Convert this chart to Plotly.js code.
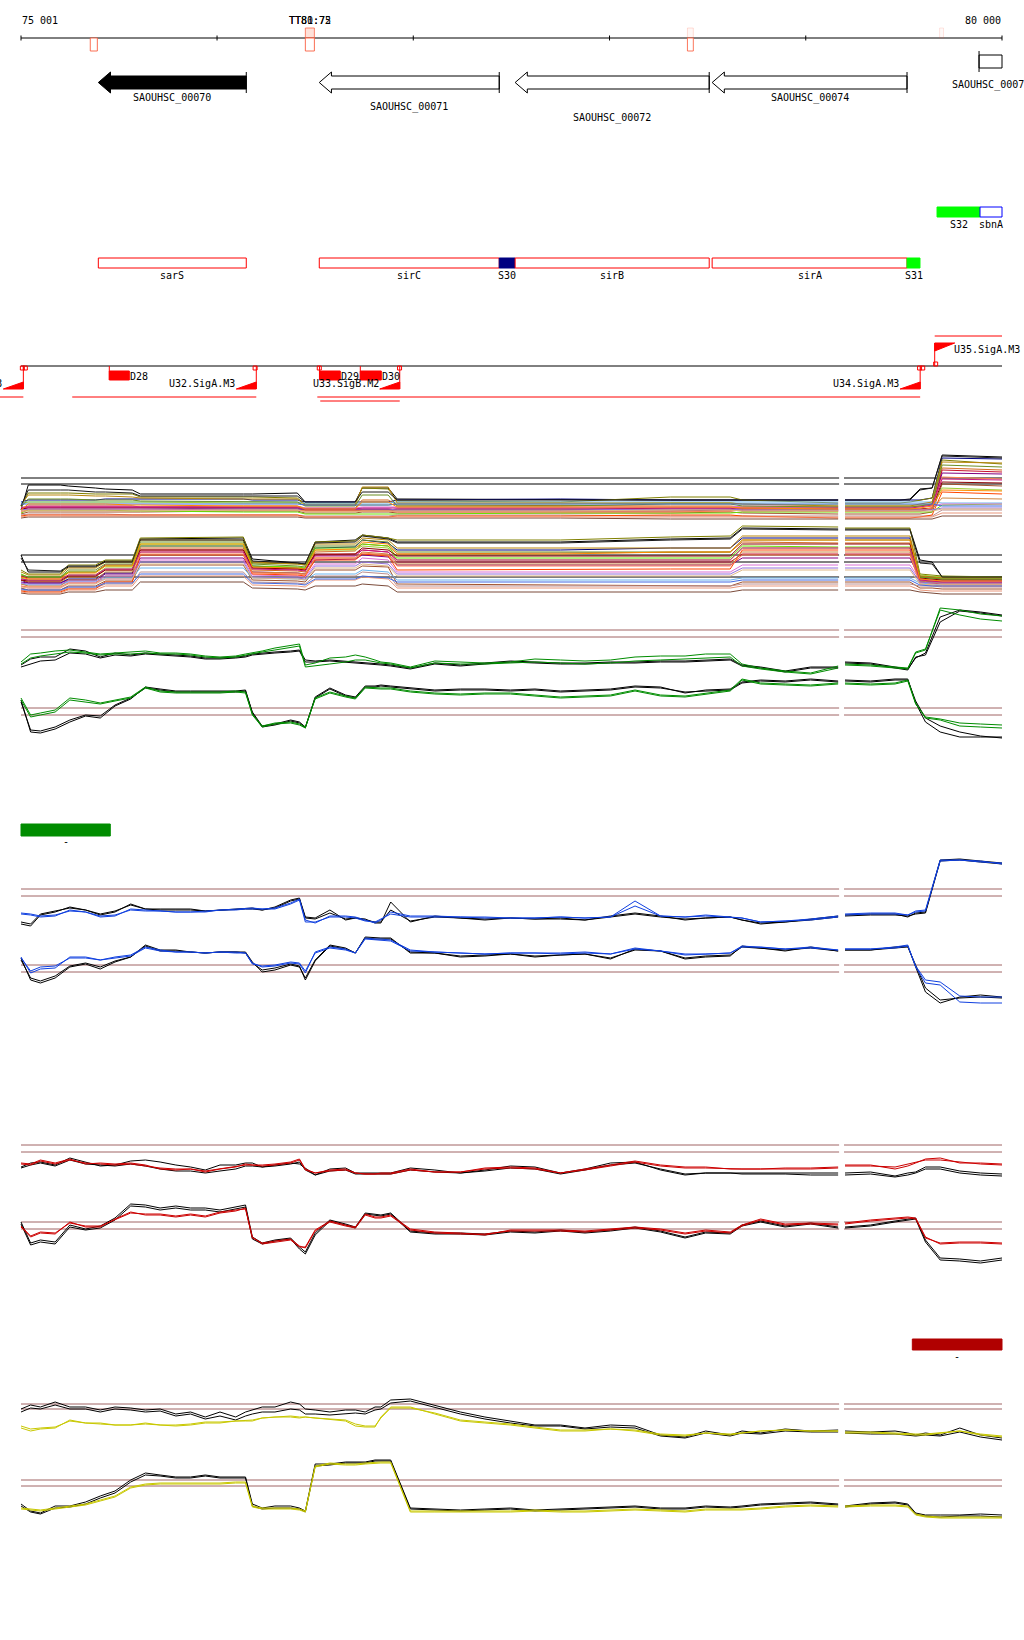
<!DOCTYPE html>
<html><head><meta charset="utf-8">
<script src="https://cdn.plot.ly/plotly-3.0.1.min.js"></script>
<style>html,body{margin:0;padding:0;background:#fff}#chart{width:1024px;height:1640px}</style>
</head><body><div id="chart"></div>
<script>
// ================= DATA =================
const viewStart = 75001, viewEnd = 80000;
const gapStart = 79170, gapEnd = 79195;
const rulerTicks = [75001, 76000, 77000, 78000, 79000, 80000];
const rulerTickLabels = ["75 001", "", "", "", "", "80 000"];

const termStart  = [75354, 76450, 76450, 78397, 78397, 79682];
const termEnd    = [75390, 76496, 76496, 78427, 78427, 79702];
const termStrand = ["-", "+", "-", "+", "-", "+"];
const termScore  = [0.9, 0.75, 0.9, 0.2, 0.85, 0.15];
const termLabels = ["TT80:75", "TT81:72"];
const termLabelPos = [76473, 76473];

const geneNames  = ["SAOUHSC_00070", "SAOUHSC_00071", "SAOUHSC_00072", "SAOUHSC_00074", "SAOUHSC_00075"];
const geneStart  = [75395, 76521, 77519, 78523, 79883];
const geneEnd    = [76149, 77438, 78508, 79516, 80450];
const geneStrand = ["-", "-", "-", "-", "+"];
const geneFilled = [true, false, false, false, false];

const segNames  = ["sarS", "sirC", "S30", "sirB", "sirA", "S31", "S32", "sbnA"];
const segStart  = [75395, 76521, 77438, 77519, 78523, 79516, 79669, 79888];
const segEnd    = [76149, 77438, 77519, 78508, 79516, 79582, 79888, 80450];
const segStrand = ["-", "-", "-", "-", "-", "-", "+", "+"];
const segType   = ["gene", "gene", "S", "gene", "gene", "S", "S", "gene"];
const segClass  = [0, 0, 1, 0, 0, 2, 2, 0];

const promNames  = ["U31.SigA.M3", "U32.SigA.M3", "U33.SigB.M2", "U34.SigA.M3", "U35.SigA.M3"];
const promPos    = [75013, 76200, 76931, 79583, 79657];
const promStrand = ["-", "-", "-", "-", "+"];
const downNames  = ["D28", "D29", "D30"];
const downStart  = [75451, 76522, 76730];
const downEnd    = [75553, 76628, 76837];
const txStart    = [74500, 75262, 76511, 76526, 79657];
const txEnd      = [75013, 76200, 79583, 76931, 80000];
const txStrand   = ["-", "-", "-", "-", "+"];
const markPos    = [75008, 75023, 76194, 76521, 76930, 79580, 79596, 79662];
const markStrand = ["-", "-", "-", "-", "-", "-", "-", "+"];

const barStart = [75001, 79543];
const barEnd   = [75456, 80000];
const barLabel = ["-", "-"];

// ---- multi-condition profiles (grid positions, bp) ----
const mcPos = [75001,75038,75201,75242,75380,75431,75568,75609,76134,76180,76409,76449,76500,76704,76740,76872,76918,77749,78310,78615,78677,79165,79200,79480,79531,79582,79644,79695,80000];
const mcRefs = [132, 126, 55, 48, 33];
// plus strand
const p01 = [100,125,125,124,122,121,120,116,116,116,117,108,108,108,122,122,111,110,110,110,110,110,110,110,111,121,122,155,153];
const p02 = [108,110,110,110,110,111,111,111,111,110,110,108,108,108,108,108,110,111,110,110,110,110,110,110,110,110,112,152,151];
const p03 = [104,117,117,117,116,116,116,113,113,113,112,106,106,106,122,121,109,108,113,113,110,107,107,107,108,110,112,150,146];
const p04 = [99,103,103,103,103,103,103,103,104,104,104,102,102,102,110,110,105,104,104,104,103,103,103,103,103,104,106,142,140];
const p05 = [96,98,98,98,98,98,98,98,99,99,99,97,97,97,98,98,97,97,97,98,97,96,96,96,96,96,98,126,124];
const p06 = [102,104,104,104,104,104,104,103,102,102,102,101,101,101,101,101,100,100,102,102,99,99,99,99,99,99,101,140,138];
const p07 = [101,102,102,102,102,102,102,102,101,101,101,100,100,100,100,100,99,99,99,100,100,100,100,100,100,100,101,137,136];
const p08 = [97,100,100,100,100,100,99,99,98,98,98,96,96,96,96,96,96,97,97,97,98,98,98,98,98,98,98,105,106];
const p09 = [108,108,108,108,108,108,108,108,108,108,108,107,107,107,107,107,108,108,108,108,108,108,108,108,108,108,108,107,107];
const p10 = [103,103,103,103,103,103,103,103,103,103,103,102,102,102,103,103,103,103,103,103,104,104,104,104,104,104,104,106,106];
const p11 = [95,96,96,96,96,96,95,95,95,95,95,94,94,94,94,94,95,95,94,94,94,94,94,94,94,94,94,100,100];
const p12 = [94,95,95,95,95,95,95,95,95,95,95,93,93,93,93,93,94,94,95,95,94,92,92,92,92,93,95,118,116];
const p13 = [106,108,108,108,108,108,108,108,107,107,107,105,105,105,105,105,106,106,107,107,106,105,105,105,105,105,106,122,120];
const p14 = [105,115,115,115,114,114,113,112,111,111,111,105,105,105,123,123,107,107,107,107,106,104,104,104,104,106,108,148,147];
const p15 = [92,93,93,93,93,93,93,93,93,93,93,92,92,92,92,92,92,92,91,91,91,91,91,91,91,91,91,94,94];
const p16 = [101,102,102,102,102,102,102,102,102,102,102,100,100,100,100,100,101,101,101,101,101,101,101,101,101,101,102,128,127];
const p17 = [98,100,100,100,100,100,100,100,100,100,100,99,99,99,99,99,99,99,99,99,101,100,100,100,100,100,101,112,111];
const p18 = [104,120,120,120,118,118,117,114,114,114,114,108,108,108,118,118,110,110,110,110,110,110,110,110,110,120,122,154,152];
const p19 = [98,101,101,101,101,101,101,101,100,100,100,99,99,99,99,99,98,98,98,99,100,99,99,99,99,100,102,133,131];
const p20 = [100,101,101,101,101,101,101,101,101,101,101,101,101,101,101,101,100,100,101,101,100,100,100,100,100,100,100,102,102];
const p21 = [99,99,99,99,99,99,99,99,100,100,100,98,98,98,99,99,99,99,100,100,99,99,99,99,99,99,99,101,101];
const p22 = [103,111,111,111,110,110,110,109,108,108,108,104,104,104,115,115,104,104,106,106,104,103,103,103,103,104,106,145,143];
const p23 = [93,94,94,94,94,94,94,94,94,94,94,93,93,93,93,93,93,93,93,93,93,93,93,93,93,93,93,97,97];
const p24 = [102,103,103,103,103,103,103,103,103,103,103,101,101,101,102,102,102,102,102,102,102,102,102,102,102,103,105,131,130];
const p25 = [106,106,106,106,106,106,106,106,106,106,106,105,105,105,105,105,106,106,106,106,106,106,106,106,106,106,106,104,104];
const p26 = [100,106,106,106,106,106,105,105,104,104,104,101,101,101,108,108,103,103,103,103,102,101,101,101,101,102,104,120,119];
// minus strand
const m01 = [55,38,38,43,43,49,49,71,72,51,47,46,68,70,75,72,68,68,71,72,82,81,81,81,81,50,48,33,33];
const m02 = [30,27,27,31,31,37,37,64,64,44,42,41,62,63,70,67,60,60,62,62,72,72,72,72,72,29,28,28,28];
const m03 = [40,36,36,45,45,50,50,72,73,47,46,45,68,69,75,72,70,70,73,74,84,83,82,82,82,36,35,34,33];
const m04 = [30,28,28,33,33,40,40,62,62,40,39,38,58,59,66,64,56,57,58,58,68,67,67,67,67,30,29,28,28];
const m05 = [22,20,20,24,24,29,29,45,45,30,29,28,40,40,44,43,26,25,25,24,28,28,28,28,28,22,22,21,21];
const m06 = [34,32,32,38,38,45,45,60,60,42,41,40,55,56,60,58,48,48,48,48,56,56,56,56,56,34,33,32,32];
const m07 = [28,27,27,30,30,36,36,52,52,38,37,36,50,51,55,53,45,45,45,45,52,52,52,52,52,31,30,30,30];
const m08 = [36,33,33,38,38,44,44,66,66,44,43,42,62,62,66,64,52,52,52,52,64,63,63,63,63,33,32,31,31];
const m09 = [26,25,25,28,28,32,32,42,42,32,31,30,36,36,40,38,30,30,30,30,32,32,32,32,32,27,26,25,25];
const m10 = [24,22,22,27,27,31,31,50,50,35,34,33,46,46,52,50,38,38,38,38,45,45,45,45,45,30,30,29,29];
const m11 = [20,19,19,22,22,26,26,38,38,28,27,26,34,34,38,36,24,24,24,24,26,26,26,26,26,24,24,23,23];
const m12 = [19,18,18,21,21,28,28,55,55,36,35,34,50,50,56,54,40,41,41,41,60,60,60,60,60,28,27,26,26];
const m13 = [32,30,30,35,35,42,42,64,64,42,41,40,60,60,64,62,50,50,50,50,62,62,62,62,62,35,34,33,33];
const m14 = [38,35,35,42,42,48,48,70,70,48,46,45,66,66,72,70,62,62,62,62,74,74,74,74,74,34,33,32,32];
const m15 = [17,16,16,18,18,20,20,28,28,22,21,20,24,24,26,24,18,18,18,18,20,20,20,20,20,18,17,16,16];
const m16 = [30,29,29,34,34,40,40,60,60,42,41,40,56,56,62,60,54,54,54,54,66,66,66,66,66,32,31,30,30];
const m17 = [26,24,24,30,30,38,38,58,58,38,37,36,52,52,58,56,46,46,46,46,58,58,58,58,58,29,28,27,27];
const m18 = [52,40,39,44,44,48,48,70,70,49,47,46,67,68,74,71,67,67,70,71,81,80,80,80,80,47,46,33,33];
const m19 = [24,23,23,27,27,34,34,56,56,37,36,35,52,52,57,55,44,44,44,44,55,55,55,55,55,26,25,24,24];
const m20 = [27,26,26,29,29,34,34,48,48,33,32,31,44,44,48,46,36,36,36,36,42,42,42,42,42,28,27,27,27];
const m21 = [23,22,22,26,26,31,31,46,46,32,31,30,42,42,46,44,34,34,34,34,40,40,40,40,40,26,25,25,25];
const m22 = [35,33,33,40,40,46,46,68,68,46,44,43,64,64,70,68,58,58,58,58,70,70,70,70,70,33,32,31,31];
const m23 = [18,17,17,20,20,24,24,34,34,25,24,23,30,30,33,31,22,22,22,22,24,24,24,24,24,20,19,19,19];
const m24 = [31,30,30,35,35,41,41,58,58,41,40,39,54,54,60,58,50,50,50,50,62,62,62,62,62,30,29,28,28];
const m25 = [21,20,20,23,23,27,27,36,36,27,26,25,31,31,34,32,28,28,28,28,30,30,30,30,30,25,24,24,24];
const m26 = [33,31,31,37,37,44,44,66,66,43,42,41,60,61,68,66,56,56,58,58,70,70,70,70,70,31,30,29,29];

// ---- paired condition profiles (shared grid, bp) ----
const pos = [75001,75050,75100,75175,75250,75330,75405,75480,75560,75635,
  75710,75790,75865,75940,76015,76095,76145,76180,76230,76295,
  76375,76420,76450,76500,76575,76655,76705,76755,76805,76835,
  76885,76985,77110,77240,77365,77495,77620,77750,77875,78005,
  78130,78260,78385,78490,78615,78675,78770,78895,79025,79165,
  79200,79330,79455,79520,79560,79610,79685,79785,79890,80000];

const greenRefs = [120, 113, 42, 35];
const gTopK  = [85,91,93,93,101,99,93,97,95,97, 96,95,94,92,92,93,94,96,97,98, 99,100,90,89,90,89,88,87,87,86, 85,82,87,85,87,89,88,87,87,88, 88,89,89,90,91,85,83,79,83,83, 88,87,83,81,92,97,133,140,138,135];
const gTopK2 = [83,86,89,90,97,96,92,95,94,96, 95,94,93,91,91,92,93,95,96,97, 98,99,88,88,89,88,87,86,86,85, 84,81,86,84,86,88,87,86,86,87, 87,88,88,89,90,84,82,78,82,82, 87,86,82,80,93,95,128,139,137,134];
const gTopC  = [88,96,97,99,100,98,96,97,98,99, 97,97,96,94,93,94,96,97,99,102, 105,106,85,87,92,93,95,93,90,88, 87,83,89,88,87,88,91,90,89,90, 93,94,94,96,96,86,82,79,77,84, 86,85,83,82,98,101,140,135,131,129];
const gTopC2 = [86,92,94,96,98,97,95,96,96,97, 96,96,95,93,92,93,95,96,98,100, 103,104,83,84,86,88,90,90,88,87, 86,82,87,86,86,87,88,87,86,87, 89,90,91,92,93,84,81,78,76,82, 85,84,82,81,97,100,142,140,136,134];
const gBotK  = [50,18,17,21,28,34,32,44,51,63, 61,59,59,59,59,59,60,37,23,25, 29,27,22,53,62,55,53,64,64,65, 64,62,60,61,61,60,61,59,60,61, 64,63,57,60,61,68,70,69,71,69, 70,69,71,71,47,28,18,13,13,13];
const gBotK2 = [48,20,19,23,30,35,34,45,52,62, 60,58,58,58,58,58,59,38,24,26, 30,28,23,52,61,54,52,63,63,64, 63,61,59,60,60,59,60,58,59,60, 63,62,58,59,60,67,69,68,70,68, 69,68,70,70,49,32,24,18,14,12];
const gBotC  = [52,35,37,40,52,50,47,50,53,63, 59,58,58,58,58,59,58,35,23,26, 27,25,22,52,58,54,52,63,62,62, 62,59,57,56,57,57,55,53,54,55, 60,55,54,57,60,71,67,66,65,67, 67,66,67,70,47,32,30,24,23,22];
const gBotC2 = [50,33,35,38,50,48,46,49,52,62, 58,57,57,57,57,58,57,36,24,27, 28,26,23,51,57,53,51,62,61,61, 61,58,56,55,56,56,54,52,53,54, 59,54,53,56,59,70,66,65,64,66, 66,65,66,69,46,33,31,27,26,25];

const blueRefs = [121, 114, 45, 38];
const bTopK  = [86,84,95,98,103,100,95,98,106,101, 101,101,101,99,100,101,101,102,100,103, 110,112,93,92,100,90,92,91,87,87, 108,88,94,92,90,92,91,92,90,94, 97,94,90,92,93,90,86,88,91,94, 95,96,96,93,97,98,150,151,149,147];
const bTopK2 = [88,86,96,99,102,100,96,99,105,101, 100,100,100,99,100,101,101,101,100,102, 109,111,92,91,97,91,92,90,88,88, 100,89,93,92,91,92,91,91,90,93, 96,93,91,92,93,90,87,88,90,93, 94,95,95,94,96,97,149,150,148,146];
const bTopC  = [96,95,93,94,100,98,93,94,101,100, 99,98,98,99,100,101,101,102,101,102, 107,111,90,87,94,94,93,90,87,90, 98,94,94,93,93,92,92,93,92,93, 109,94,93,95,93,92,88,89,91,94, 96,97,97,95,99,100,150,150,149,146];
const bTopC2 = [97,96,94,95,99,98,94,95,100,99, 99,98,98,98,100,100,101,101,101,101, 106,110,88,88,93,93,92,89,88,91, 96,93,93,93,92,92,92,93,92,93, 104,94,93,94,93,92,88,89,90,93, 95,96,96,95,98,99,149,150,148,147];
const bBotK  = [52,30,27,32,43,46,41,48,53,65, 60,60,58,57,58,58,58,48,38,40, 45,43,32,50,65,62,57,73,72,72, 72,57,57,53,54,56,53,55,56,51, 61,59,51,53,54,64,62,59,63,59, 60,60,63,64,43,18,7,13,15,13];
const bBotK2 = [50,32,29,34,44,47,43,49,53,64, 59,59,58,57,58,58,57,47,40,42, 46,44,30,49,64,61,57,72,71,71, 71,58,57,54,55,56,54,55,56,52, 60,59,52,54,55,63,62,60,62,59, 60,60,62,63,45,22,10,12,13,12];
const bBotC  = [53,37,41,42,53,53,50,53,55,63, 60,58,58,57,58,58,57,47,43,44, 47,46,37,58,63,61,57,72,71,71, 70,60,58,57,56,57,57,57,58,56, 62,59,55,56,57,64,63,61,63,60, 61,61,63,65,43,27,25,8,7,7];
const bBotC2 = [52,39,43,44,52,52,50,52,54,62, 59,58,58,57,58,57,57,46,44,45, 48,47,39,57,62,60,57,71,70,70, 69,59,58,57,56,57,57,56,57,56, 61,59,56,56,57,63,63,61,62,60, 61,61,62,64,44,30,28,14,13,13];

const redRefs = [125, 118, 48, 41];
const rTopK  = [103,107,108,105,112,108,104,105,109,110, 108,105,103,100,105,105,107,107,103,105, 107,106,102,95,101,102,97,97,97,97, 97,102,100,97,100,104,103,97,101,107, 108,100,95,97,97,97,97,97,97,97, 97,98,94,97,98,103,103,99,97,96];
const rTopK2 = [102,105,107,104,110,106,105,104,106,104, 101,99,99,97,99,101,104,104,103,104, 106,108,100,95,99,100,96,96,96,96, 96,100,98,97,99,102,101,96,100,105, 107,101,96,97,97,96,96,96,95,95, 95,96,93,95,97,101,101,97,95,94];
const rTopC  = [107,106,110,107,111,106,107,106,107,105, 101,100,101,98,101,103,106,105,105,106, 108,111,101,97,100,101,97,96,96,97, 97,101,98,98,102,103,102,97,101,105, 109,105,103,103,101,101,101,102,102,103, 105,105,101,104,107,111,112,107,107,106];
const rTopC2 = [106,105,109,106,110,107,106,105,106,104, 102,101,101,99,101,103,105,105,104,105, 107,110,100,97,99,100,97,96,96,96, 96,100,98,98,101,102,101,97,100,104, 108,104,102,102,101,101,101,101,101,102, 104,104,103,106,108,110,110,108,106,105];
const rBotK  = [48,27,30,28,45,41,44,52,66,65, 62,64,62,62,60,63,65,33,27,30, 32,23,18,37,50,46,43,57,56,55, 57,39,37,37,36,39,38,40,38,40, 43,39,33,38,37,45,49,44,47,43, 43,45,49,51,52,30,12,11,9,12];
const rBotK2 = [46,25,28,26,43,40,42,50,64,63, 60,62,60,60,58,61,63,31,26,29, 31,21,16,35,49,45,42,56,55,54, 56,38,36,36,35,38,37,39,37,39, 42,38,32,37,36,44,48,43,46,42, 42,44,48,50,51,28,10,9,7,10];
const rBotC  = [43,33,37,36,48,43,43,51,58,55, 55,53,55,53,57,59,62,33,26,28, 30,23,23,40,49,45,43,56,53,53, 55,41,38,37,35,40,40,40,39,41, 43,41,37,40,38,45,51,46,47,46, 47,50,52,53,52,33,26,27,27,26];
const rBotC2 = [44,34,38,37,47,44,44,50,57,56, 56,54,56,54,58,60,61,32,27,29, 31,24,22,39,48,44,42,55,52,52, 54,40,37,36,36,39,39,39,38,40, 42,40,36,39,37,44,50,45,46,45, 46,49,51,52,51,32,27,28,28,27];

const yellowRefs = [126, 121, 50, 44];
const yTopK  = [121,125,123,128,123,123,120,123,122,120, 121,116,118,113,118,113,118,120,123,123, 128,126,121,120,118,120,120,118,123,123, 130,131,125,118,113,109,105,105,102,105, 104,95,93,99,95,99,97,101,99,100, 99,98,99,97,95,97,95,102,95,92];
const yTopK2 = [118,122,121,125,121,121,118,121,120,118, 119,114,116,111,114,110,114,116,118,118, 121,120,116,116,115,116,117,116,120,121, 127,129,123,116,111,107,104,104,101,103, 102,94,92,97,94,97,96,99,98,98, 97,96,96,95,94,95,94,98,93,90];
const yTopC  = [102,99,101,102,110,107,107,105,105,107, 105,104,105,107,107,109,109,109,112,113, 113,112,113,112,110,109,104,103,103,113, 123,123,116,109,107,105,102,99,99,101, 99,95,94,97,95,97,99,100,99,99, 97,97,96,95,95,95,97,99,95,93];
const yTopC2 = [104,101,102,103,109,107,106,105,105,106, 105,105,106,108,108,109,109,110,112,113, 114,113,113,112,111,110,106,104,104,112, 122,122,117,110,108,106,103,100,100,101, 100,96,95,97,96,97,99,100,99,99, 98,98,97,96,96,96,97,99,96,94];
const yBotK  = [26,19,17,24,24,28,34,39,50,57, 55,53,53,55,53,53,53,26,22,24, 24,22,19,66,66,68,68,68,70,70, 70,22,21,20,21,22,20,21,22,23, 24,22,22,24,23,24,26,27,28,26, 24,27,28,26,17,15,15,15,16,15];
const yBotK2 = [24,18,16,22,23,26,32,37,48,55, 54,52,52,54,52,52,52,24,21,22, 22,21,18,64,65,67,67,67,69,69, 69,21,20,19,20,21,19,20,21,22, 23,21,21,23,22,23,25,26,27,25, 23,26,27,25,16,14,13,14,14,13];
const yBotC  = [22,21,20,22,24,26,30,34,43,46, 47,47,47,47,47,48,48,24,22,22, 22,21,19,64,67,66,66,67,68,68, 68,19,19,19,19,19,20,19,19,20, 21,20,19,21,21,21,22,24,25,24, 24,25,25,24,16,14,13,13,13,13];
const yBotC2 = [21,20,19,21,23,25,29,33,42,45, 46,46,46,46,46,47,47,23,21,21, 21,20,18,63,66,65,65,66,67,67, 67,18,18,18,18,18,19,18,18,19, 20,19,18,20,20,20,21,23,24,23, 23,24,24,23,15,13,12,12,12,12];

// ================= STYLE / LAYOUT CONSTANTS =================
const W = 1024, H = 1640, PADL = 21, PADR = 22;
const bpPerPx = (viewEnd - viewStart) / (W - PADL - PADR);
const xRange = [viewStart - PADL * bpPerPx, viewEnd + PADR * bpPerPx];
const R = {
  rulerY: 38, rulerLabelY: 20, tick: 2.5,
  termUp: [28, 38], termDown: [38, 51],
  geneRevY: 82.5, geneFwdY: 61.5, bodyHalf: 6.5, headHalf: 10.5,
  geneLabelY: [97.5, 107, 118, 97.5, 85],
  segFwdY: 212, segRevY: 263, segHalf: 5, segLabelOff: 12,
  promLineY: 366, revRampTop: 382, revRampBot: 389, fwdRampTop: 343, fwdRampBot: 351,
  revLabelY: 383, fwdLabelY: 349, dTop: 371, dBot: 380, dLabelY: 376,
  txRevY: 397, txRowGap: 4, txFwdY: 336,
  barTop: [824, 1339], barBot: [836, 1350], barLabelY: [841, 1356]
};
const HEAD_BP = 62, RAMP_BP = 102;
const segClassColors = [null, "#000080", "#00ff00"];
const barColors = ["#008c00", "#b00000"];
const mcColors = ["#000000","#000080","#808000","#d2691e","#a0522d","#c8102e","#800080","#66e000","#6cb4ee",
                  "#da70d6","#bc8f8f","#ff4500","#9acd32","#b8860b","#7b4b3a","#8b0000","#cd853f","#1a1a1a",
                  "#ff7f50","#9370db","#deb887","#6b8e23","#e9967a","#c71585","#4169e1","#ff8c00"];
const mcPlus  = [p01,p02,p03,p04,p05,p06,p07,p08,p09,p10,p11,p12,p13,p14,p15,p16,p17,p18,p19,p20,p21,p22,p23,p24,p25,p26];
const mcMinus = [m01,m02,m03,m04,m05,m06,m07,m08,m09,m10,m11,m12,m13,m14,m15,m16,m17,m18,m19,m20,m21,m22,m23,m24,m25,m26];
const REFC = "#a06464";
const FONT = {family: '"DejaVu Sans Mono", "Liberation Mono", monospace', size: 10, color: '#000'};

function dom(t, b) { return [1 - b / H, 1 - t / H]; }
const traces = [], shapes = [], annos = [];
function line(x, y, color, width, yaxis) {
  traces.push({type: 'scatter', mode: 'lines', x, y, line: {color, width: width || 1},
    yaxis: yaxis || 'y', hoverinfo: 'skip', connectgaps: false});
}
function poly(x, y, fill, lc) {
  traces.push({type: 'scatter', mode: 'lines', x, y, fill: 'toself', fillcolor: fill,
    line: {color: lc, width: 1}, yaxis: 'y', hoverinfo: 'skip'});
}
function rect(x0, x1, y0, y1, lc, fc) {
  shapes.push({type: 'rect', xref: 'x', yref: 'y', x0, x1, y0, y1,
    line: {color: lc, width: 1}, fillcolor: fc || 'rgba(0,0,0,0)', layer: 'above'});
}
function text(x, y, t, xanchor, color) {
  annos.push({xref: 'x', yref: 'y', x, y, text: t, showarrow: false, xanchor: xanchor || 'center',
    yanchor: 'middle', borderpad: 0, font: Object.assign({}, FONT, color ? {color} : {})});
}
function withGap(xs, ys) {
  const X = [], Y = [];
  for (let i = 0; i < xs.length; i++) {
    if (i > 0 && xs[i - 1] <= gapStart && xs[i] >= gapEnd) { X.push((xs[i - 1] + xs[i]) / 2); Y.push(null); }
    X.push(xs[i]); Y.push(ys[i]);
  }
  return {x: X, y: Y};
}
function curve(xs, ys, color, yaxis) { const g = withGap(xs, ys); line(g.x, g.y, color, 1, yaxis); }
function refLines(vals, color, yaxis) {
  vals.forEach(v => line([viewStart, gapStart, (gapStart + gapEnd) / 2, gapEnd, viewEnd], [v, v, null, v, v], color, 1, yaxis));
}

// ================= ANNOTATION TRACKS =================
line([viewStart, viewEnd], [R.rulerY, R.rulerY], '#000', 1);
(function () {
  const tx = [], ty = [];
  rulerTicks.forEach(t => { tx.push(t, t, null); ty.push(R.rulerY - R.tick, R.rulerY + R.tick, null); });
  line(tx, ty, '#000', 1);
})();
rulerTicks.forEach((t, i) => { if (rulerTickLabels[i]) text(t, R.rulerLabelY, rulerTickLabels[i], i === 0 ? 'left' : 'right'); });

termStart.forEach((s, i) => {
  const up = termStrand[i] === '+';
  const yy = up ? R.termUp : R.termDown;
  const a = termScore[i];
  rect(s, termEnd[i], yy[0], yy[1], `rgba(250,95,65,${a})`, up ? `rgba(250,140,110,${a * 0.35})` : '#ffffff');
});
termLabels.forEach((t, i) => text(termLabelPos[i], R.rulerLabelY, t));

geneNames.forEach((nm, i) => {
  const rev = geneStrand[i] === '-';
  const cy = rev ? R.geneRevY : R.geneFwdY;
  const b = R.bodyHalf, h = R.headHalf;
  const s = Math.max(geneStart[i], viewStart), e = Math.min(geneEnd[i], viewEnd);
  let xs, ys;
  if (rev) {
    const hx = geneStart[i] + HEAD_BP;
    xs = [e, hx, hx, geneStart[i], hx, hx, e, e];
    ys = [cy - b, cy - b, cy - h, cy, cy + h, cy + b, cy + b, cy - b];
  } else if (geneEnd[i] <= viewEnd) {
    const hx = geneEnd[i] - HEAD_BP;
    xs = [s, hx, hx, geneEnd[i], hx, hx, s, s];
    ys = [cy - b, cy - b, cy - h, cy, cy + h, cy + b, cy + b, cy - b];
  } else {
    xs = [s, e, e, s, s];
    ys = [cy - b, cy - b, cy + b, cy + b, cy - b];
  }
  poly(xs, ys, geneFilled[i] ? '#000' : '#fff', '#000');
  const bx = rev ? geneEnd[i] : geneStart[i];
  line([bx, bx], [cy - h, cy + h], '#000', 1);
  text((s + e) / 2, R.geneLabelY[i], nm);
});

segNames.forEach((n, i) => {
  const s = Math.max(segStart[i], viewStart), e = Math.min(segEnd[i], viewEnd);
  const fwd = segStrand[i] === '+';
  const cy = fwd ? R.segFwdY : R.segRevY;
  let lc, fc;
  if (segType[i] === 'gene') { lc = fwd ? '#0000ff' : '#ff0000'; fc = '#ffffff'; }
  else { lc = fc = segClassColors[segClass[i]]; }
  rect(s, e, cy - R.segHalf, cy + R.segHalf, lc, fc);
  text((s + e) / 2, cy + R.segLabelOff, n);
});

line([viewStart, viewEnd], [R.promLineY, R.promLineY], '#000', 1);
(function () {
  const rows = [];
  const order = txStart.map((s, i) => i).sort((a, b) => txStart[a] - txStart[b]);
  order.forEach(i => {
    if (txStrand[i] === '-') {
      let r = 0;
      while (rows[r] !== undefined && rows[r] > txStart[i]) r++;
      rows[r] = txEnd[i];
      const y = R.txRevY + r * R.txRowGap;
      line([txStart[i], txEnd[i]], [y, y], '#ff0000', 1);
    } else {
      line([txStart[i], Math.min(txEnd[i], viewEnd)], [R.txFwdY, R.txFwdY], '#ff0000', 1);
    }
  });
})();
downStart.forEach((s, i) => {
  line([s, s], [R.promLineY, R.dBot], '#ff0000', 1);
  rect(s, downEnd[i], R.dTop, R.dBot, '#ff0000', '#ff0000');
  text(downEnd[i], R.dLabelY, downNames[i], 'left');
});
promPos.forEach((p, i) => {
  if (promStrand[i] === '-') {
    line([p, p], [R.promLineY, R.revRampBot], '#ff0000', 1);
    poly([p - RAMP_BP, p, p, p - RAMP_BP], [R.revRampBot, R.revRampTop, R.revRampBot, R.revRampBot], '#ff0000', '#ff0000');
    text(p - RAMP_BP, R.revLabelY, promNames[i], 'right');
  } else {
    line([p, p], [R.fwdRampTop, R.promLineY], '#ff0000', 1);
    poly([p, p + RAMP_BP, p, p], [R.fwdRampTop, R.fwdRampTop, R.fwdRampBot, R.fwdRampTop], '#ff0000', '#ff0000');
    text(p + RAMP_BP * 0.9, R.fwdLabelY, promNames[i], 'left');
  }
});
traces.push({type: 'scatter', mode: 'markers', x: markPos,
  y: markStrand.map(s => s === '-' ? R.promLineY + 2 : R.promLineY - 2),
  marker: {symbol: 'square-open', size: 4, color: '#ff0000', line: {width: 1, color: '#ff0000'}},
  yaxis: 'y', hoverinfo: 'skip', cliponaxis: false});

barStart.forEach((s, i) => {
  rect(s, barEnd[i], R.barTop[i], R.barBot[i], barColors[i], barColors[i]);
  text((s + barEnd[i]) / 2, R.barLabelY[i], barLabel[i]);
});

// ================= EXPRESSION PANELS =================
refLines(mcRefs, '#000000', 'y2');
mcPlus.forEach((arr, i) => curve(mcPos, arr, mcColors[i], 'y2'));
mcMinus.forEach((arr, i) => curve(mcPos, arr, mcColors[i], 'y2'));

function pairPanel(refs, axis, color, blacks, colored) {
  refLines(refs, REFC, axis);
  blacks.forEach(a => curve(pos, a, '#000', axis));
  colored.forEach(a => curve(pos, a, color, axis));
}
pairPanel(greenRefs, 'y3', '#008c00', [gTopK, gTopK2, gBotK, gBotK2], [gTopC, gTopC2, gBotC, gBotC2]);
pairPanel(blueRefs, 'y4', '#1040e0', [bTopK, bTopK2, bBotK, bBotK2], [bTopC, bTopC2, bBotC, bBotC2]);
pairPanel(redRefs, 'y5', '#cc0000', [rTopK, rTopK2, rBotK, rBotK2], [rTopC, rTopC2, rBotC, rBotC2]);
pairPanel(yellowRefs, 'y6', '#c8c800', [yTopK, yTopK2, yBotK, yBotK2], [yTopC, yTopC2, yBotC, yBotC2]);

const hid = {visible: false, fixedrange: true, anchor: 'x', autorange: false};
const layout = {
  width: W, height: H, margin: {l: 0, r: 0, t: 0, b: 0, pad: 0},
  paper_bgcolor: '#ffffff', plot_bgcolor: 'rgba(0,0,0,0)', showlegend: false,
  xaxis: {range: xRange, visible: false, fixedrange: true, autorange: false},
  yaxis: Object.assign({}, hid, {domain: [0, 1], range: [H, 0]}),
  yaxis2: Object.assign({}, hid, {domain: dom(420, 610), range: [0, 190]}),
  yaxis3: Object.assign({}, hid, {domain: dom(600, 750), range: [0, 150]}),
  yaxis4: Object.assign({}, hid, {domain: dom(840, 1010), range: [0, 170]}),
  yaxis5: Object.assign({}, hid, {domain: dom(1120, 1270), range: [0, 150]}),
  yaxis6: Object.assign({}, hid, {domain: dom(1380, 1530), range: [0, 150]}),
  shapes, annotations: annos
};
Plotly.newPlot('chart', traces, layout, {displayModeBar: false, staticPlot: true});
</script></body></html>
